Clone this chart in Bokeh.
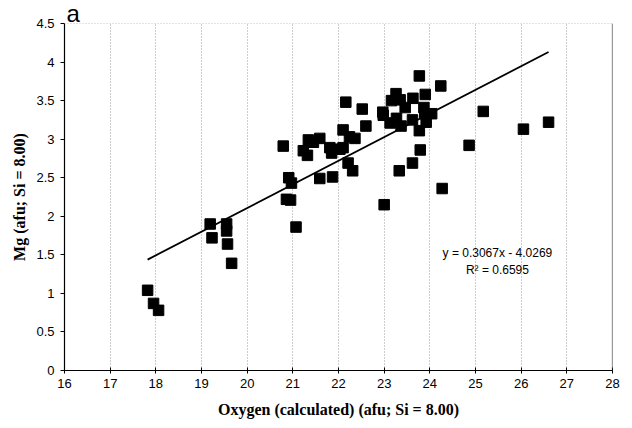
from bokeh.plotting import figure
from bokeh.models import Span, Label, FixedTicker
from bokeh.embed import file_html
from bokeh.resources import INLINE

# Data
oxygen = [17.82, 17.95, 18.06, 19.19, 19.23, 19.55, 19.55, 19.57, 19.66,
          20.79, 20.91, 20.97, 20.86, 20.95, 21.07, 21.23, 21.32, 21.34, 21.45,
          21.59, 21.59, 21.81, 21.85, 22.03, 22.10, 21.87, 22.21, 22.31, 22.10,
          22.24, 22.36, 22.16, 22.52, 22.60, 22.97, 22.98, 23.00, 23.13, 23.16,
          23.26, 23.27, 23.35, 23.37, 23.46, 23.33, 23.62, 23.63, 23.62, 23.77,
          23.77, 23.79, 23.87, 23.90, 23.89, 23.92, 24.04, 24.24, 24.27, 24.86,
          25.17, 26.05, 26.60]
mg = [1.04, 0.87, 0.78, 1.90, 1.72, 1.90, 1.81, 1.64, 1.39,
      2.91, 2.50, 2.43, 2.22, 2.21, 1.86, 2.85, 2.79, 2.99, 2.96,
      3.01, 2.49, 2.89, 2.82, 2.87, 2.89, 2.51, 2.69, 2.59, 3.12,
      3.03, 3.01, 3.48, 3.39, 3.17, 3.35, 3.31, 2.15, 3.21, 3.50,
      3.59, 3.27, 3.51, 3.17, 3.41, 2.59, 3.25, 3.53, 2.69, 3.82,
      3.11, 2.86, 3.41, 3.58, 3.33, 3.22, 3.33, 3.69, 2.36, 2.92,
      3.36, 3.13, 3.22]

slope = 0.3067
intercept = -4.0269
equation_text = "y = 0.3067x - 4.0269"
r2_text = "R\u00b2 = 0.6595"
panel_label = "a"

x_ticks = list(range(16, 29))
y_ticks = [0, 0.5, 1, 1.5, 2, 2.5, 3, 3.5, 4, 4.5]
y_tick_labels = ["0", "0.5", "1", "1.5", "2", "2.5", "3", "3.5", "4", "4.5"]

p = figure(width=632, height=428, output_backend="svg", toolbar_location=None,
           x_range=(16, 28), y_range=(0, 4.5),
           min_border_left=64, min_border_right=20, min_border_top=0,
           min_border_bottom=58, title=panel_label)
p.outline_line_color = None
p.background_fill_color = "white"
p.border_fill_color = "white"

p.title.text_font = "Liberation Sans"
p.title.text_font_size = "24px"
p.title.text_font_style = "normal"
p.title.text_color = "black"
p.title.align = "left"
p.title.offset = 2
p.title.standoff = -6
p.title.text_line_height = 1.0

# grid
p.ygrid.grid_line_color = None
p.xgrid.ticker = FixedTicker(ticks=x_ticks)
p.xgrid.grid_line_color = "#9a9a9a"
p.xgrid.grid_line_dash = "1 2"
p.xgrid.grid_line_width = 1

# borders
p.add_layout(Span(location=4.5, dimension="width", line_color="#8a8a8a",
                  line_dash="1 2", line_width=1))
p.add_layout(Span(location=28, dimension="height", line_color="#333333",
                  line_width=1.2))

# axes
p.xaxis.ticker = FixedTicker(ticks=x_ticks)
p.yaxis.ticker = FixedTicker(ticks=y_ticks)
p.yaxis.major_label_overrides = {t: l for t, l in zip(y_ticks, y_tick_labels)}
for ax in (p.xaxis[0], p.yaxis[0]):
    ax.axis_line_color = "black"
    ax.axis_line_width = 1.2
    ax.major_tick_line_color = "black"
    ax.minor_tick_line_color = None
    ax.major_label_text_font = "Liberation Sans"
    ax.major_label_text_font_size = "13px"
    ax.major_label_text_color = "black"
    ax.axis_label_text_font = "Liberation Serif"
    ax.axis_label_text_font_style = "bold"
    ax.axis_label_text_font_size = "16px"
    ax.axis_label_text_color = "black"
p.xaxis.major_tick_in = 3
p.xaxis.major_tick_out = 3
p.yaxis.major_tick_in = 0
p.yaxis.major_tick_out = 4
p.xaxis.major_label_standoff = 5
p.yaxis.major_label_standoff = 6
p.xaxis.axis_label = "Oxygen (calculated) (afu; Si = 8.00)"
p.yaxis.axis_label = "Mg (afu; Si = 8.00)"
p.xaxis.axis_label_standoff = 10
p.yaxis.axis_label_standoff = 5

# trend line
lx = [min(oxygen), max(oxygen)]
ly = [slope * v + intercept for v in lx]
p.line(lx, ly, line_color="black", line_width=1.8)

# points
p.scatter(oxygen, mg, marker="square", size=10.5, fill_color="black",
          line_color="black")

p.add_layout(Label(x=25.48, y=1.52, text=equation_text, text_align="center",
                   text_baseline="middle", text_font="Liberation Sans",
                   text_font_size="12px", text_color="black"))
p.add_layout(Label(x=25.48, y=1.30, text=r2_text, text_align="center",
                   text_baseline="middle", text_font="Liberation Sans",
                   text_font_size="12px", text_color="black"))

open("out.html", "w").write(file_html(p, INLINE))
